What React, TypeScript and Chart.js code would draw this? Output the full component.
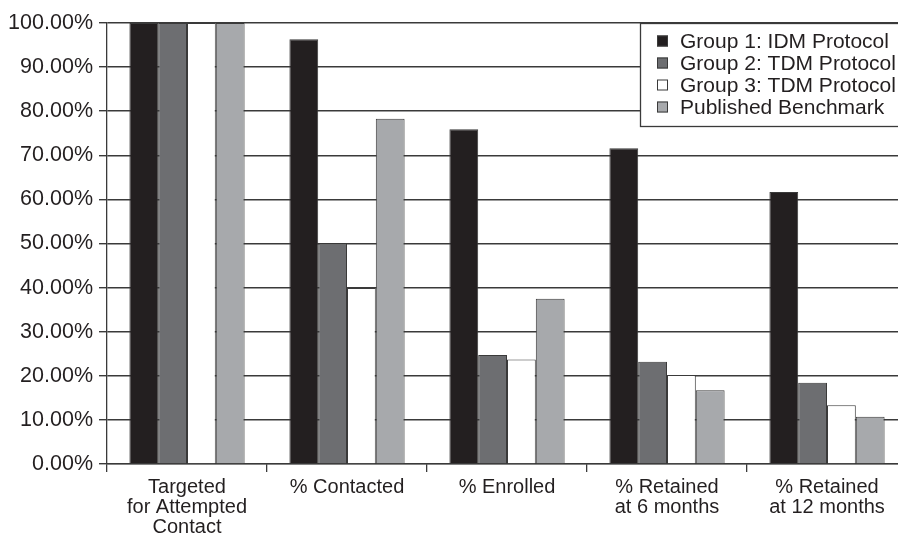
import React, { useEffect, useRef } from "react";
import { Chart, registerables } from "chart.js";

Chart.register(...registerables);

const categories: (string | string[])[] = [
  ["Targeted", "for Attempted", "Contact"],
  "% Contacted",
  "% Enrolled",
  ["% Retained", "at 6 months"],
  ["% Retained", "at 12 months"],
];

const seriesNames = [
  "Group 1: IDM Protocol",
  "Group 2: TDM Protocol",
  "Group 3: TDM Protocol",
  "Published Benchmark",
];

const group1 = [100, 96.3, 75.9, 71.6, 61.7];
const group2 = [100, 50.0, 24.7, 23.2, 18.4];
const group3 = [100, 39.9, 23.7, 20.2, 13.3];
const benchmark = [100, 78.3, 37.5, 16.7, 10.7];

const colors = ["#231f20", "#6d6e71", "#ffffff", "#a7a9ac"];

const yTickValues = [0, 10, 20, 30, 40, 50, 60, 70, 80, 90, 100];

const FONT = "'Liberation Sans', Arial, Helvetica, sans-serif";
const TEXT = "#231f20";
const LINE = "#3a3a3a";

const legendPlugin = {
  id: "boxLegend",
  afterDraw(chart: any) {
    const ctx = chart.ctx;
    const area = chart.chartArea;
    const left = area.right - 267;
    const top = area.top;
    const w = 300;
    const h = 103;
    ctx.save();
    ctx.fillStyle = "#ffffff";
    ctx.fillRect(left, top, w, h);
    ctx.strokeStyle = LINE;
    ctx.lineWidth = 1.3;
    ctx.strokeRect(left + 0.5, top + 0.5, w, h);
    ctx.font = `21px ${FONT}`;
    ctx.textBaseline = "middle";
    ctx.textAlign = "left";
    chart.data.datasets.forEach((ds: any, i: number) => {
      const cy = top + 18 + i * 22;
      ctx.fillStyle = ds.backgroundColor;
      ctx.fillRect(left + 17, cy - 5.5, 11, 11);
      ctx.strokeStyle = LINE;
      ctx.lineWidth = 1;
      ctx.strokeRect(left + 17.5, cy - 5, 10, 10);
      ctx.fillStyle = TEXT;
      ctx.fillText(ds.label, left + 40, cy + 1);
    });
    ctx.restore();
  },
};

export default function App() {
  const ref = useRef<HTMLCanvasElement | null>(null);

  useEffect(() => {
    if (!ref.current) return;
    const seriesData = [group1, group2, group3, benchmark];
    const chart = new Chart(ref.current, {
      type: "bar",
      data: {
        labels: categories,
        datasets: seriesData.map((d, i) => ({
          label: seriesNames[i],
          data: d,
          backgroundColor: colors[i],
          borderColor: LINE,
          borderWidth: 1,
          categoryPercentage: 0.72,
          barPercentage: 1.0,
        })),
      },
      options: {
        responsive: false,
        animation: false,
        devicePixelRatio: 1,
        layout: { padding: { top: 23, right: 13, left: 0, bottom: 0 } },
        plugins: {
          legend: { display: false },
          tooltip: { enabled: false },
          title: { display: false },
        },
        scales: {
          x: {
            offset: true,
            grid: {
              offset: true,
              drawOnChartArea: false,
              drawTicks: true,
              tickLength: 8,
              color: LINE,
              lineWidth: 1.3,
            },
            border: { display: true, color: LINE, width: 1.3 },
            ticks: {
              color: TEXT,
              font: { family: FONT, size: 20, lineHeight: 1.0 },
              padding: 5,
              maxRotation: 0,
              autoSkip: false,
            },
            afterFit: (scale: any) => {
              scale.height = 71;
            },
          },
          y: {
            min: 0,
            max: 100,
            afterBuildTicks: (scale: any) => {
              scale.ticks = yTickValues.map((v) => ({ value: v }));
            },
            grid: {
              color: LINE,
              lineWidth: 1.4,
              drawTicks: true,
              tickLength: 8,
            },
            border: { display: true, color: LINE, width: 1.3 },
            ticks: {
              color: TEXT,
              font: { family: FONT, size: 21.5 },
              padding: 6,
              callback: (v: any) => Number(v).toFixed(2) + "%",
            },
            afterFit: (scale: any) => {
              scale.width = 107;
            },
          },
        },
      },
      plugins: [legendPlugin],
    });
    return () => chart.destroy();
  }, []);

  return (
    <div
      style={{
        position: "fixed",
        left: 0,
        top: 0,
        width: 898,
        height: 535,
        overflow: "hidden",
        background: "#ffffff",
      }}
    >
      <canvas
        ref={ref}
        width={920}
        height={535}
        style={{ width: 920, height: 535, display: "block" }}
      />
    </div>
  );
}
